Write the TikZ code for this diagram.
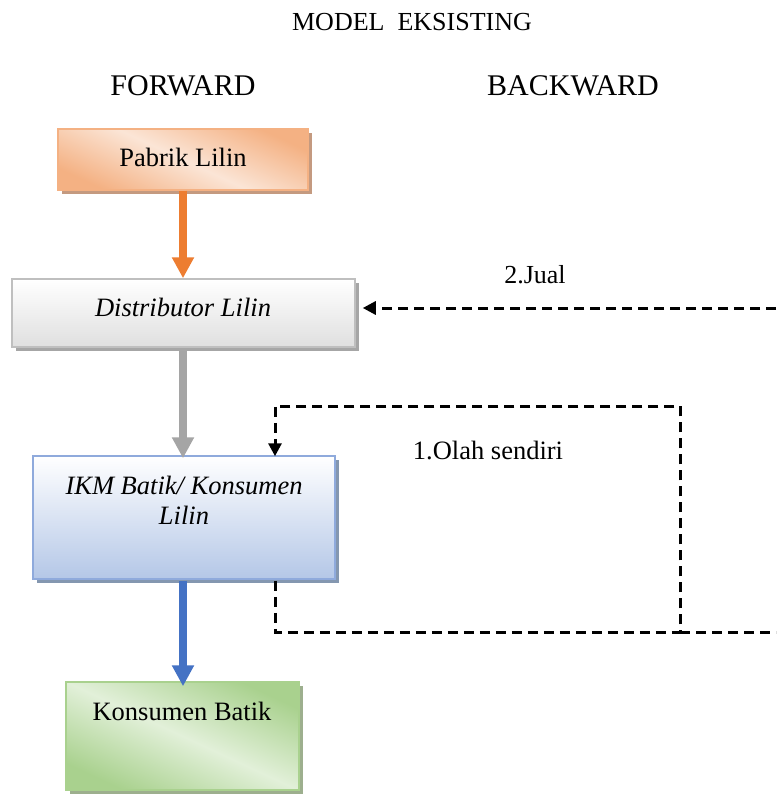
\documentclass[tikz,border=0pt]{standalone}
\usepackage{fontspec}
\setmainfont{Liberation Serif}
\usetikzlibrary{arrows.meta,shadows}
\definecolor{orA}{HTML}{F4B183}
\definecolor{orB}{HTML}{FBE5D6}
\definecolor{orL}{HTML}{ED7D31}
\definecolor{orS}{HTML}{C49A80}
\definecolor{grB}{HTML}{BFBFBF}
\definecolor{grL}{HTML}{A5A5A5}
\definecolor{grS}{HTML}{A6A6A6}
\definecolor{blA}{HTML}{B4C7E7}
\definecolor{blB}{HTML}{8FAADC}
\definecolor{blL}{HTML}{4472C4}
\definecolor{blS}{HTML}{8497B0}
\definecolor{gnA}{HTML}{A9D18E}
\definecolor{gnB}{HTML}{E2F0D9}
\definecolor{gnS}{HTML}{9DAF8E}
\tikzset{
  box/.style={rectangle, inner sep=0pt, line width=1.5pt},
  boxtext/.style={font=\fontsize{26.5}{30}\selectfont, align=center, inner sep=0pt},
  thickarrow/.style={line width=8pt, -{Triangle[width=21pt,length=21pt]}},
  dashline/.style={line width=3pt, dash pattern=on 10pt off 6pt},
  dashtip/.style={-{Triangle[width=13pt,length=13pt]}},
}
\begin{document}
\begin{tikzpicture}[x=1pt,y=-1pt]
\useasboundingbox (0,0) rectangle (776,794);
% titles
\node[font=\fontsize{26}{30}\selectfont] (title) at (412,22) {MODEL\ \ EKSISTING};
\node[font=\fontsize{30}{34}\selectfont] (fwd) at (183,86) {FORWARD};
\node[font=\fontsize{30}{34}\selectfont] (bwd) at (573,86) {BACKWARD};
% boxes
\node[box, draw=orA, minimum width=250pt, minimum height=61pt,
  shading=axis, top color=orA, bottom color=orA, middle color=orB, shading angle=-25,
  general shadow={fill=orS, shadow xshift=4pt, shadow yshift=-4pt}] (pabrik) at (183,159.5) {};
\node[box, draw=grB, minimum width=343pt, minimum height=68pt,
  top color=white, bottom color=gray!25,
  general shadow={fill=grS, shadow xshift=4pt, shadow yshift=-4pt}] (dist) at (183.5,313) {};
\node[box, draw=blB, minimum width=302pt, minimum height=123pt,
  top color=white, bottom color=blA,
  general shadow={fill=blS, shadow xshift=4pt, shadow yshift=-4pt}] (ikm) at (184,517.5) {};
\node[box, draw=gnA, minimum width=233pt, minimum height=108pt,
  shading=axis, top color=gnA, bottom color=gnA, middle color=gnB, shading angle=-25,
  general shadow={fill=gnS, shadow xshift=4pt, shadow yshift=-4pt}] (kons) at (182.5,736) {};
% box texts
\node[boxtext] (tpabrik) at (183,157) {Pabrik Lilin};
\node[boxtext] (tdist) at (183,307) {\itshape Distributor Lilin};
\node[boxtext] (tikm) at (184,500) {\itshape IKM Batik/ Konsumen\\\itshape Lilin};
\node[boxtext] (tkons) at (182,711) {Konsumen Batik};
% labels
\node[font=\fontsize{26}{30}\selectfont] (ljual) at (535,275) {2.Jual};
\node[font=\fontsize{26.5}{30}\selectfont] (lolah) at (488,450) {1.Olah sendiri};
% forward arrows
\draw[thickarrow, orL] (pabrik.south) -- (pabrik.south |- dist.north);
\draw[thickarrow, grL] ([yshift=-3pt]dist.south -| pabrik.south) -- ([yshift=-3pt]ikm.north -| pabrik.south);
\draw[thickarrow, blL] ([yshift=-1pt]ikm.south -| pabrik.south) -- ([yshift=-5pt]kons.north -| pabrik.south);
% backward dashed loops
\coordinate (c1) at (275,632);
\coordinate (c2) at (680,632);
\coordinate (c3) at (680,406);
\coordinate (c4) at (275,406);
\coordinate (e1) at (776,632);
\coordinate (e2) at (776,308);
\draw[dashline, dashtip] ([yshift=-1pt]ikm.south -| c1) -- (c1) -- (c2) -- (c3) -- (c4) -- ([yshift=-1pt]ikm.north -| c4);
\draw[dashline] (c2) -- (e1);
\draw[dashline, dashtip] (e2) -- ([xshift=7pt]dist.east |- e2);
\end{tikzpicture}
\end{document}
